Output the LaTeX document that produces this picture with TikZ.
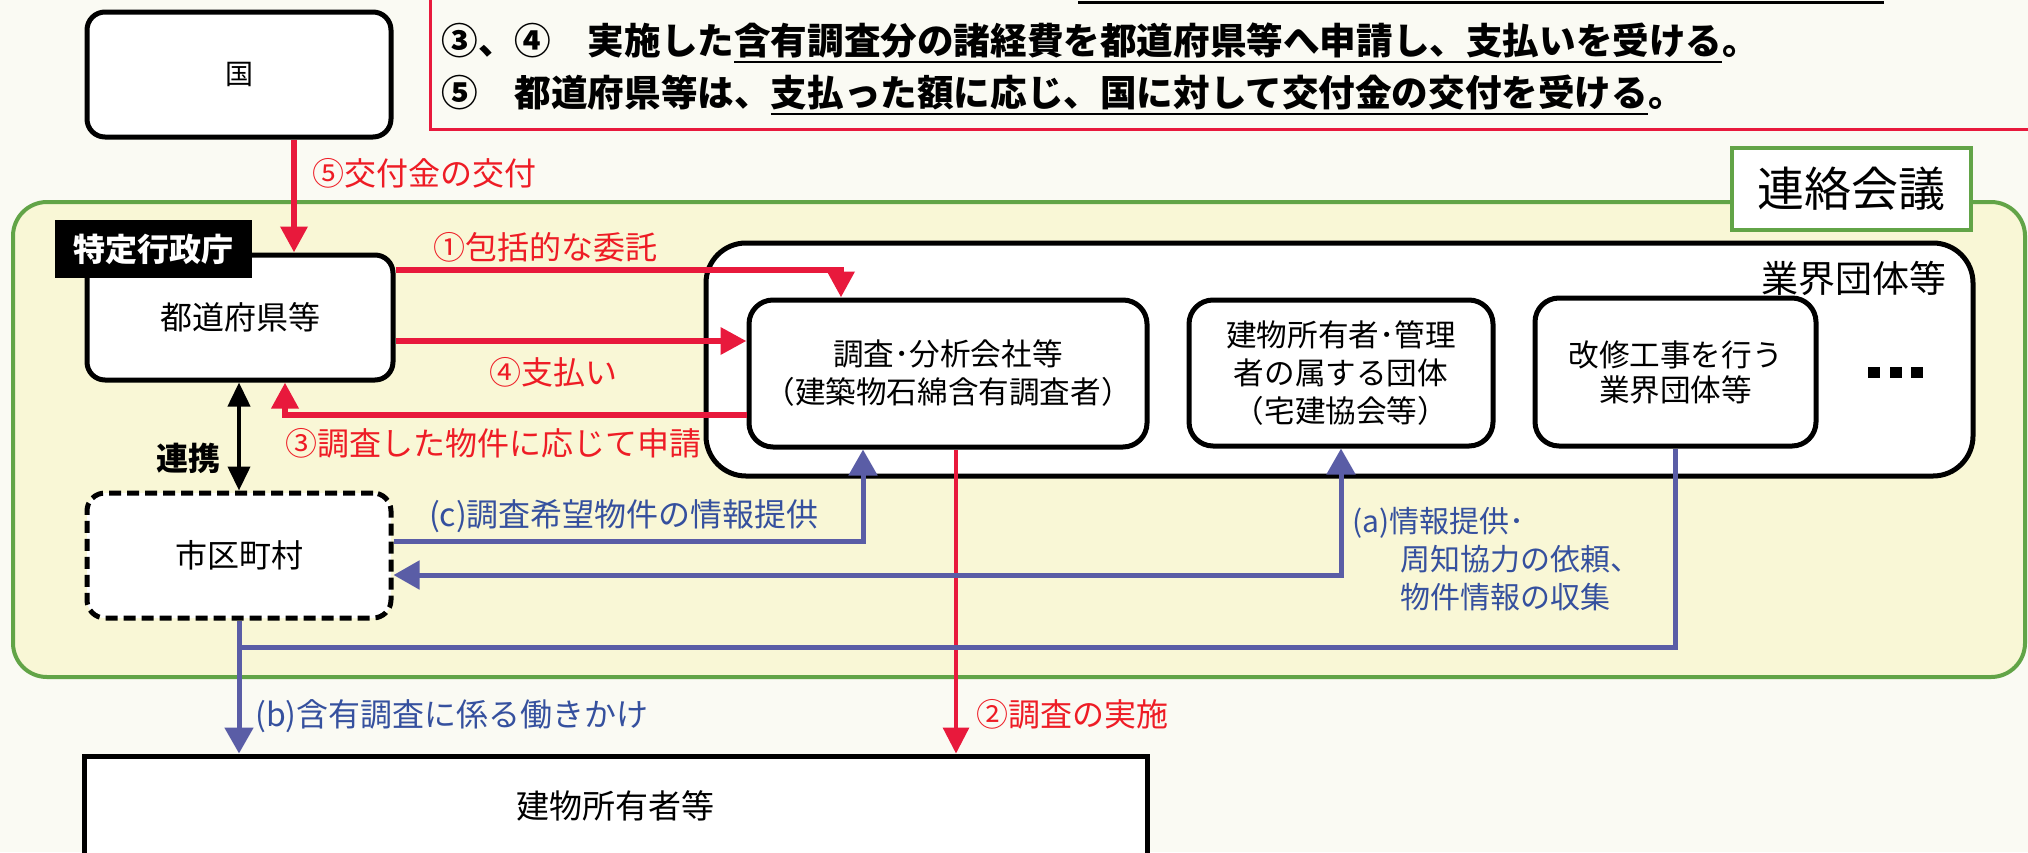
\documentclass[tikz,border=0pt]{standalone}
\usepackage{fontspec}
\setmainfont{Noto Sans CJK JP}
\usetikzlibrary{arrows.meta,calc}
\definecolor{rd}{HTML}{E8193C}
\definecolor{rdtxt}{HTML}{EE1C25}
\definecolor{bl}{HTML}{5A5DA6}
\definecolor{bltxt}{HTML}{35509E}
\definecolor{grn}{HTML}{62A447}
\definecolor{pale}{HTML}{F9F7D6}
\definecolor{paper}{HTML}{FAFAF3}
\newcommand\myul[1]{\setbox0\hbox{#1}\rlap{\rule[-4.5pt]{\wd0}{1.4pt}}\box0}
\begin{document}
\begin{tikzpicture}[x=0.5pt,y=-0.5pt,
  box/.style={draw=black,line width=2.5pt,fill=white,rounded corners=9pt,inner sep=0pt,align=center,font=\fontsize{16}{19}\selectfont},
  ibox/.style={draw=black,line width=2.5pt,fill=white,rounded corners=12pt,inner sep=0pt,align=center,font=\fontsize{15.3}{19}\selectfont},
  redarr/.style={draw=rd,line width=3.2pt,-{Triangle[width=13pt,length=13pt]}},
  redthin/.style={draw=rd,line width=1.6pt,-{Triangle[width=13pt,length=13pt]}},
  bluearr/.style={draw=bl,line width=2.5pt,-{Triangle[width=14pt,length=13pt]}},
  blueline/.style={draw=bl,line width=2.5pt},
  rlbl/.style={text=rdtxt,inner sep=0pt,font=\fontsize{16}{16}\selectfont},
  blbl/.style={text=bltxt,inner sep=0pt,font=\fontsize{16}{16}\selectfont},
  note/.style={anchor=west,inner sep=0pt,font=\bfseries\fontsize{18.3}{20}\selectfont}]
\fill[paper] (0,0) rectangle (2028,852);
\useasboundingbox (0,0) rectangle (2028,852);
% notes box
\draw[rd,line width=1.5pt] (430,-10) -- (430,129) -- (2040,129);
\draw[line width=1.5pt] (1078,2) -- (1884,2);
\node[note] (n1) at (441,43) {③、④　実施した\myul{含有調査分の諸経費を都道府県等へ申請し、支払いを受ける}。};
\node[note] (n2) at (441,95) {⑤　都道府県等は、\myul{支払った額に応じ、国に対して交付金の交付を受ける}。};
% kuni
\node[box,minimum width=152pt,minimum height=62.5pt,font=\fontsize{14}{14}\selectfont] (kuni) at (239,74.5) {国};
% green area
\draw[grn,line width=2pt,fill=pale,rounded corners=17pt] (13,202) rectangle (2025,677);
\node[draw=grn,line width=2pt,fill=white,minimum width=119.5pt,minimum height=41pt,inner sep=0pt,font=\fontsize{23.5}{24}\selectfont] (renraku) at (1851.5,189) {連絡会議};
% industry outer box
\node[draw=black,line width=2.5pt,fill=white,rounded corners=20pt,minimum width=633.5pt,minimum height=116.5pt,inner sep=0pt] (gyokai) at (1339.5,359.5) {};
\node[anchor=east,inner sep=0pt,font=\fontsize{18.5}{19}\selectfont] (gyokailbl) at (1947,278) {業界団体等};
\node[ibox,minimum width=199pt,minimum height=73.5pt] (chosa) at (948,373.5) {調査･分析会社等\\（建築物石綿含有調査者）};
\node[ibox,minimum width=152pt,minimum height=73pt] (tatemono) at (1341,373) {建物所有者･管理\\者の属する団体\\（宅建協会等）};
\node[ibox,minimum width=140.5pt,minimum height=74pt,font=\fontsize{15.3}{17.5}\selectfont] (kaishu) at (1675.5,372) {改修工事を行う\\業界団体等};
\fill (1868,367) rectangle +(12,11);
\fill (1890,367) rectangle +(12,11);
\fill (1911,367) rectangle +(12,11);
% prefecture
\node[box,minimum width=153pt,minimum height=62.5pt] (pref) at (240,317.5) {都道府県等};
\node[fill=black,text=white,minimum width=98.5pt,minimum height=29pt,inner sep=0pt,font=\bfseries\fontsize{16}{16}\selectfont] (toku) at (153.5,249) {特定行政庁};
% municipality
\node[box,dash pattern=on 6pt off 3pt,minimum width=152pt,minimum height=62.5pt] (shiku) at (239,555.5) {市区町村};
% owners
\node[draw=black,line width=2.5pt,fill=white,minimum width=531.5pt,minimum height=50pt,inner sep=0pt,font=\fontsize{16.5}{17}\selectfont] (owners) at (615.5,806) {建物所有者等};
% coordinates
\coordinate (x5) at (294,0);
\coordinate (c1) at (841,270);
\coordinate (c4) at (0,341);
\coordinate (c3) at (285,415);
\coordinate (cr) at (239,0);
\coordinate (c2) at (956,0);
\coordinate (cc) at (863,541);
\coordinate (ca) at (1341,575);
\coordinate (cb1) at (1675.5,647);
\coordinate (cb2) at (239,647);
% red arrows
\draw[redarr] (kuni.south -| x5) -- (pref.north -| x5);
\node[rlbl,anchor=west] (l5) at (312,173) {⑤交付金の交付};
\draw[redarr] (pref.east |- c1) -- (c1) -- (chosa.north -| c1);
\node[rlbl] (l1) at (545,247) {①包括的な委託};
\draw[redarr] (pref.east |- c4) -- (chosa.west |- c4);
\node[rlbl] (l4) at (553,372) {④支払い};
\draw[redarr] (chosa.west |- c3) -- (c3) -- (pref.south -| c3);
\node[rlbl] (l3) at (493,443) {③調査した物件に応じて申請};
\draw[redthin] (chosa.south -| c2) -- (owners.north -| c2);
\node[rlbl] (l2) at (1072,714) {②調査の実施};
% cooperation
\draw[line width=2pt,{Triangle[width=11pt,length=12pt]}-{Triangle[width=11pt,length=12pt]}] (pref.south -| cr) -- (shiku.north -| cr);
\node[inner sep=0pt,font=\bfseries\fontsize{16}{16}\selectfont] (lr) at (188,458) {連携};
% blue arrows
\draw[bluearr] (shiku.east |- cc) -- (cc) -- (chosa.south -| cc);
\node[blbl] (lc) at (624,516) {(c)調査希望物件の情報提供};
\draw[bluearr,{Triangle[width=14pt,length=13pt]}-{Triangle[width=14pt,length=13pt]}] (shiku.east |- ca) -- (ca) -- (tatemono.south);
\node[blbl,anchor=west,align=left,font=\fontsize{15}{19}\selectfont] (la) at (1352,559) {(a)情報提供･\\\hspace*{24pt}周知協力の依頼、\\\hspace*{24pt}物件情報の収集};
\draw[blueline] (kaishu.south) -- (cb1) -- (cb2);
\draw[bluearr] (shiku.south -| cb2) -- (owners.north -| cb2);
\node[blbl] (lb) at (452,716) {(b)含有調査に係る働きかけ};
\end{tikzpicture}
\end{document}
